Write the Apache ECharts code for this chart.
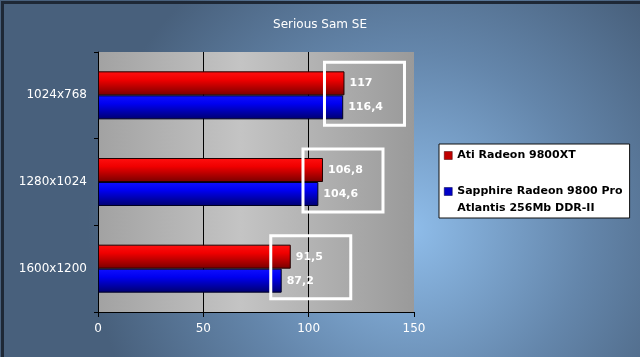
<!DOCTYPE html>
<html>
<head>
<meta charset="utf-8">
<script src="https://cdn.jsdelivr.net/npm/echarts@6/dist/echarts.min.js"></script>
<style>
html,body{margin:0;padding:0;background:#4a6380;}
#c{width:640px;height:357px;}
</style>
</head>
<body>
<div id="c"></div>
<script>
var titleText = 'Serious Sam SE';
var categories = ['1024x768', '1280x1024', '1600x1200'];
var seriesNames = ['Ati Radeon 9800XT', 'Sapphire Radeon 9800 Pro Atlantis 256Mb DDR-II'];
var atiValues = [117, 106.8, 91.5];
var sapphireValues = [116.4, 104.6, 87.2];
var xTicks = [0, 50, 100, 150];

var FONT = 'DejaVu Sans';
var chart = echarts.init(document.getElementById('c'), null, {renderer: 'canvas'});

function grad(top, mid, bottom) {
  return {type: 'linear', x: 0, y: 0, x2: 0, y2: 1,
    colorStops: [{offset: 0, color: top}, {offset: 0.35, color: mid}, {offset: 1, color: bottom}]};
}
function fmt(p) { return String(p.value).replace('.', ','); }

var boxData = categories.map(function (c, i) {
  return [Math.max(atiValues[i], sapphireValues[i]), i];
});

var option = {
  backgroundColor: {type: 'radial', x: 0.64, y: 0.64, r: 0.9,
    colorStops: [{offset: 0, color: '#8fbdea'}, {offset: 0.55, color: '#6486ab'}, {offset: 1, color: '#48607c'}]},
  animation: false,
  title: {text: titleText, left: 'center', top: 14,
    textStyle: {color: '#ffffff', fontFamily: FONT, fontSize: 12, fontWeight: 'normal'}},
  legend: {
    orient: 'vertical', left: 439, top: 144,
    backgroundColor: '#ffffff', borderColor: '#111111', borderWidth: 1,
    padding: [3, 7, 1, 5], itemGap: 2, itemWidth: 8, itemHeight: 8,
    icon: 'rect',
    data: [
      {name: seriesNames[0], itemStyle: {color: '#c00000', borderColor: '#400000', borderWidth: 0.5}},
      {name: seriesNames[1], itemStyle: {color: '#0000c8', borderColor: '#000040', borderWidth: 0.5}}
    ],
    formatter: function (n) {
      if (n === seriesNames[1]) return '\nSapphire Radeon 9800 Pro\nAtlantis 256Mb DDR-II';
      return n;
    },
    textStyle: {color: '#000000', fontFamily: FONT, fontSize: 11, fontWeight: 'bold', lineHeight: 17}
  },
  grid: {left: 98, top: 52, width: 316, height: 260, show: true, borderWidth: 0,
    backgroundColor: {type: 'linear', x: 0, y: 0, x2: 1, y2: 0,
      colorStops: [{offset: 0, color: '#a2a2a2'}, {offset: 0.45, color: '#c4c4c4'}, {offset: 1, color: '#9a9a9a'}]}},
  xAxis: {
    type: 'value', min: 0, max: 150, interval: 50,
    axisLine: {show: true, lineStyle: {color: '#000000', width: 1}},
    axisTick: {show: true, length: 5, lineStyle: {color: '#000000'}},
    axisLabel: {color: '#ffffff', fontFamily: FONT, fontSize: 12, margin: 11,
      formatter: function (v) { return xTicks.indexOf(v) >= 0 ? String(v) : ''; }},
    splitLine: {show: true, showMaxLine: false, lineStyle: {color: '#000000', width: 1}}
  },
  yAxis: {
    type: 'category', data: categories, inverse: true,
    axisLine: {show: true, lineStyle: {color: '#000000', width: 1}},
    axisTick: {show: true, length: 4, lineStyle: {color: '#000000'}},
    axisLabel: {color: '#ffffff', fontFamily: FONT, fontSize: 12, margin: 11}
  },
  series: [
    {
      name: seriesNames[0], type: 'bar', data: atiValues, barWidth: 24, barGap: '0%',
      itemStyle: {color: grad('#ff1010', '#f00000', '#780000'), borderColor: '#200000', borderWidth: 1},
      label: {show: true, position: 'right', distance: 5, formatter: fmt,
        color: '#ffffff', fontFamily: FONT, fontSize: 11, fontWeight: 'bold'}
    },
    {
      name: seriesNames[1], type: 'bar', data: sapphireValues, barWidth: 24, barGap: '0%',
      itemStyle: {color: grad('#1010ff', '#0000f0', '#00006e'), borderColor: '#000020', borderWidth: 1},
      label: {show: true, position: 'right', distance: 5, formatter: fmt,
        color: '#ffffff', fontFamily: FONT, fontSize: 11, fontWeight: 'bold'}
    },
    {
      type: 'custom', data: boxData, z: 5, silent: true,
      encode: {x: 0, y: 1},
      renderItem: function (params, api) {
        var p = api.coord([api.value(0), api.value(1)]);
        return {type: 'rect', shape: {x: p[0] - 20, y: p[1] - 33, width: 80, height: 63},
          style: {fill: null, stroke: '#ffffff', lineWidth: 3}};
      }
    }
  ],
  graphic: [{type: 'rect', left: 0, top: 0, z: 100, silent: true,
    shape: {width: 640, height: 357},
    style: {fill: null, stroke: '#1e2836', lineWidth: 3}}]
};
chart.setOption(option);
</script>
</body>
</html>
